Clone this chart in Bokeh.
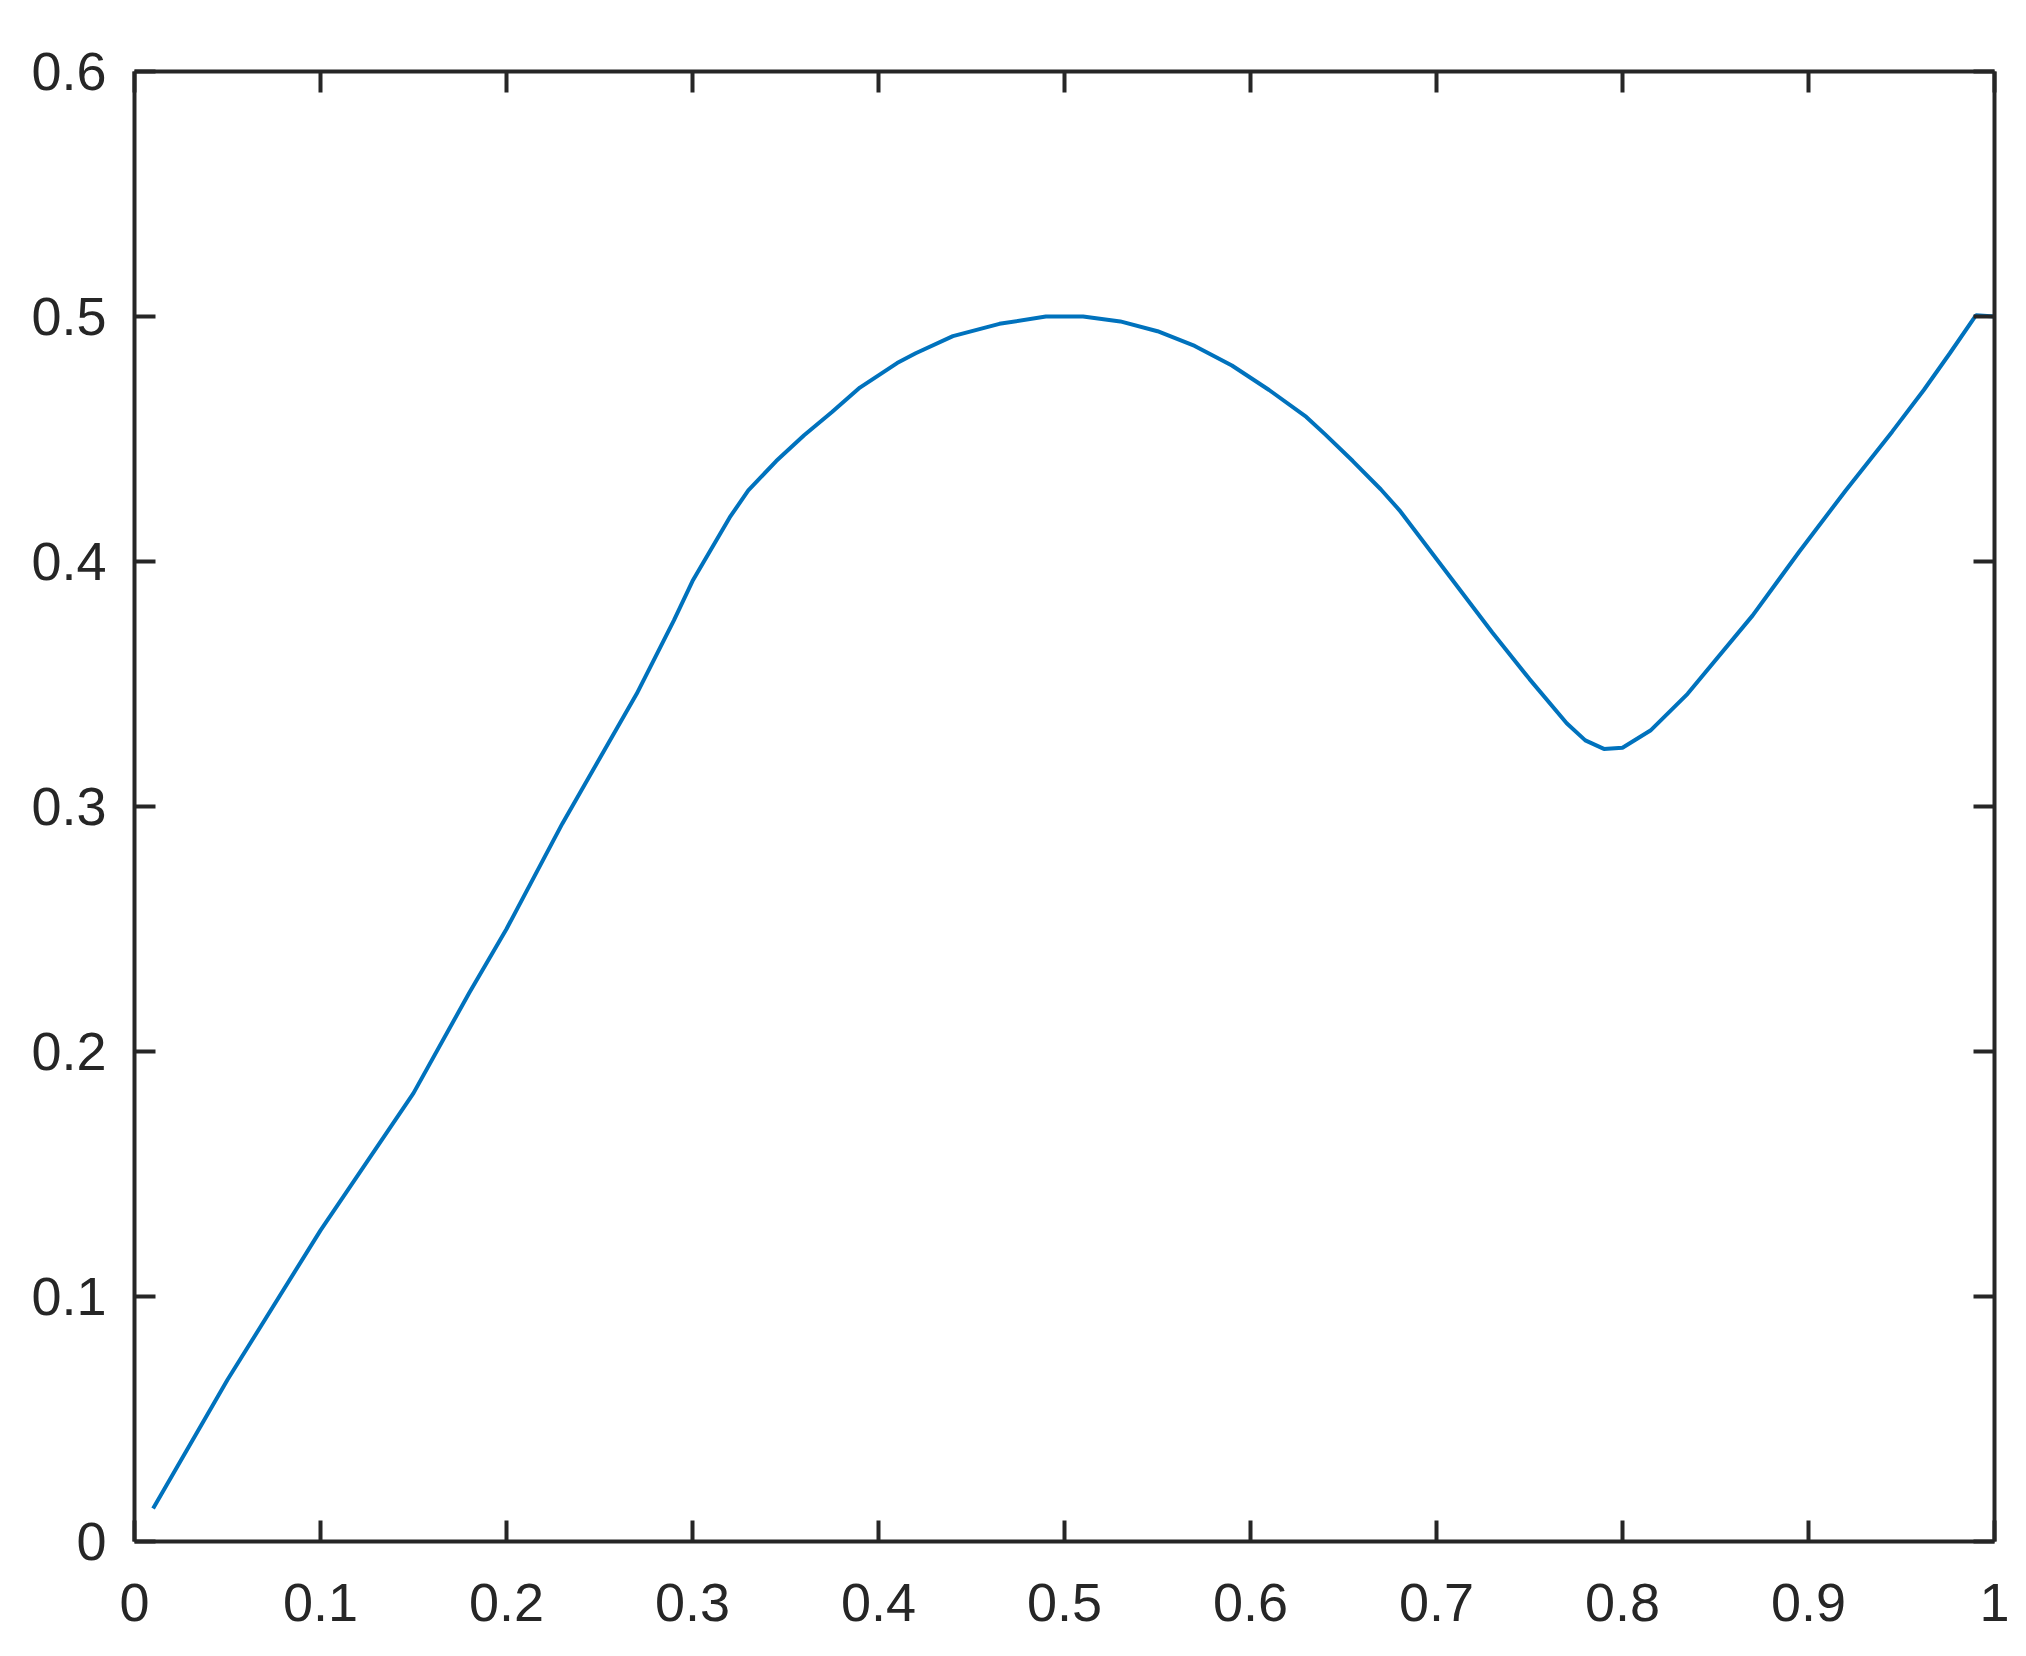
from bokeh.plotting import figure
from bokeh.models import Range1d, LinearAxis, FixedTicker, CustomJSTickFormatter
from bokeh.embed import file_html
from bokeh.resources import INLINE

# Data
x_values = [0.01, 0.05, 0.10, 0.15, 0.18, 0.20, 0.23, 0.27, 0.29, 0.30,
            0.32, 0.33, 0.345, 0.36, 0.375, 0.39, 0.41, 0.42, 0.44, 0.465,
            0.49, 0.51, 0.53, 0.55, 0.57, 0.59, 0.61, 0.63, 0.64, 0.655,
            0.67, 0.68, 0.71, 0.73, 0.75, 0.77, 0.78, 0.79, 0.80, 0.815,
            0.835, 0.87, 0.895, 0.92, 0.945, 0.962, 0.976, 0.99, 1.0]
y_values = [0.0135, 0.066, 0.127, 0.183, 0.224, 0.250, 0.293, 0.346, 0.376, 0.392,
            0.418, 0.429, 0.441, 0.4515, 0.461, 0.471, 0.481, 0.485, 0.492, 0.497,
            0.500, 0.500, 0.498, 0.494, 0.488, 0.480, 0.470, 0.459, 0.452, 0.441,
            0.4295, 0.421, 0.391, 0.371, 0.352, 0.334, 0.327, 0.3235, 0.324, 0.331,
            0.346, 0.378, 0.404, 0.429, 0.453, 0.470, 0.485, 0.5005, 0.500]
x_ticks = [0, 0.1, 0.2, 0.3, 0.4, 0.5, 0.6, 0.7, 0.8, 0.9, 1.0]
y_ticks = [0, 0.1, 0.2, 0.3, 0.4, 0.5, 0.6]

AX = "#262626"
FONT = "Liberation Sans"
FS = "54px"

p = figure(width=2010, height=1640, output_backend="svg", toolbar_location=None,
           x_range=Range1d(0, 1), y_range=Range1d(0, 0.6),
           min_border_left=134, min_border_right=16, min_border_top=71,
           min_border_bottom=99, x_axis_location=None, y_axis_location=None)
p.grid.visible = False
p.outline_line_color = None
p.background_fill_color = "white"
p.border_fill_color = "white"

fmt_code = "return (Math.round(tick*10)/10).toString();"


def style(axis, ticks, labels, standoff):
    axis.ticker = FixedTicker(ticks=ticks)
    axis.axis_line_color = AX
    axis.axis_line_width = 4
    axis.major_tick_line_color = AX
    axis.major_tick_line_width = 4
    axis.major_tick_in = 21
    axis.major_tick_out = 0
    axis.minor_tick_line_color = None
    if labels:
        axis.formatter = CustomJSTickFormatter(code=fmt_code)
        axis.major_label_text_font = FONT
        axis.major_label_text_font_size = FS
        axis.major_label_text_color = AX
        axis.major_label_standoff = standoff
    else:
        axis.formatter = CustomJSTickFormatter(code="return '';")
        axis.major_label_text_font_size = "0px"
        axis.major_label_standoff = 0


bottom = LinearAxis()
style(bottom, x_ticks, True, 42)
p.add_layout(bottom, "below")
left = LinearAxis()
style(left, y_ticks, True, 28)
p.add_layout(left, "left")
top = LinearAxis()
style(top, x_ticks, False, 0)
p.add_layout(top, "above")
right = LinearAxis()
style(right, y_ticks, False, 0)
p.add_layout(right, "right")

p.line(x_values, y_values, line_color="#0072BD", line_width=4)

open("out.html", "w").write(file_html(p, INLINE))
